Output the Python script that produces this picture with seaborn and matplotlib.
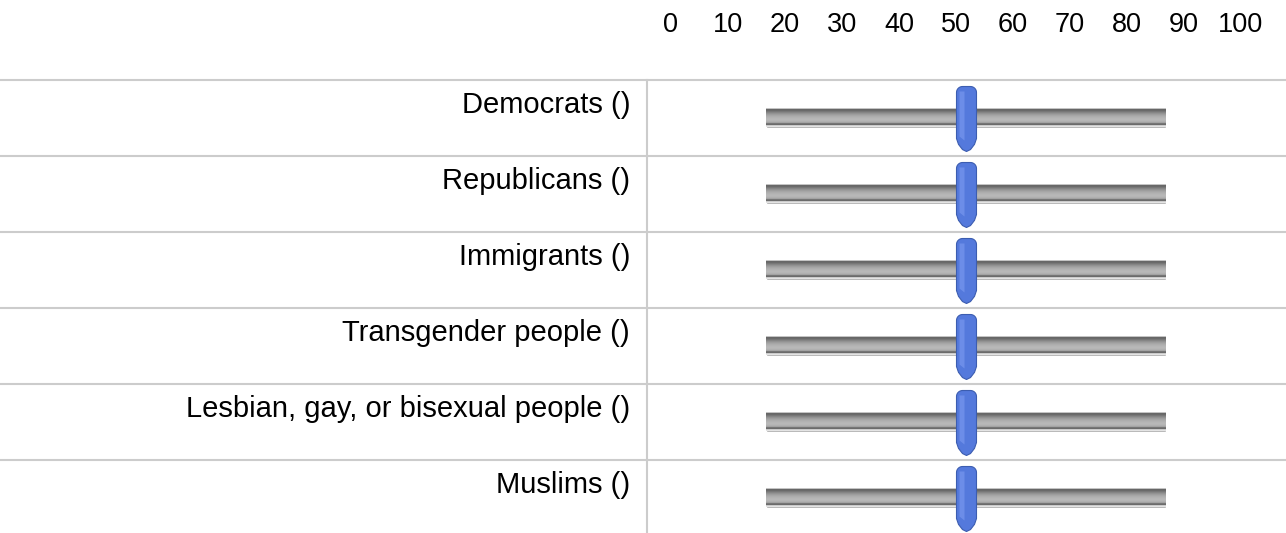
'''
FEELING THERMOMETER SLIDERS
'''
import numpy as np
import pandas as pd
import seaborn as sns
import matplotlib.pyplot as plt
from matplotlib.path import Path
from matplotlib.colors import LinearSegmentedColormap
from matplotlib.transforms import ScaledTranslation

''' DATA '''
groups = [
    'Democrats ()',
    'Republicans ()',
    'Immigrants ()',
    'Transgender people ()',
    'Lesbian, gay, or bisexual people ()',
    'Muslims ()',
]
ratings = [50, 50, 50, 50, 50, 50]
slider_max = [100, 100, 100, 100, 100, 100]
scale_ticks = [0, 10, 20, 30, 40, 50, 60, 70, 80, 90, 100]

df = pd.DataFrame({'group': groups, 'rating': ratings, 'track': slider_max})

''' STYLE '''
W, H = 1286, 533
left_px, top_px, row_px = 647, 80, 76
track_left_px, px_per_unit = 766, 4.0
label_left_px, label_step_px = 671, 5.7
line_col = '#cccccc'

# vertical shading of the slider groove, top to bottom
track_cmap = LinearSegmentedColormap.from_list('track', [
    '#c4c4c4', '#676767', '#6a6a6a', '#777777', '#858585', '#929292', '#9d9d9d',
    '#a6a6a6', '#adadad', '#b2b2b2', '#b6b6b6', '#b8b8b8', '#b6b6b6', '#b0b0b0',
    '#a3a3a3', '#767676', '#6b6b6b', '#cbcbcb', '#e4e4e4'], N=19)


def handle_path(hw, top, bottom, taper, r):
    # rounded top, straight sides, pointed bottom (units: pixels, y up)
    a1 = np.linspace(np.pi, np.pi / 2, 8)
    a2 = np.linspace(np.pi / 2, 0, 8)
    pts = [(-hw + r + r * np.cos(a), top - r + r * np.sin(a)) for a in a1]
    pts += [(hw - r + r * np.cos(a), top - r + r * np.sin(a)) for a in a2]
    pts += [(hw, taper), (hw * 0.8, taper - (taper - bottom) * 0.45),
            (hw * 0.4, taper - (taper - bottom) * 0.85), (0, bottom),
            (-hw * 0.4, taper - (taper - bottom) * 0.85),
            (-hw * 0.8, taper - (taper - bottom) * 0.45), (-hw, taper)]
    pts.append(pts[0])
    verts = np.array(pts)
    codes = [Path.MOVETO] + [Path.LINETO] * (len(verts) - 2) + [Path.CLOSEPOLY]
    return Path(verts, codes)


def marker_size(path):
    # matplotlib rescales a path marker so its largest |coord| is half the size
    ext = np.abs(path.vertices).max()
    return (2 * ext * 0.72) ** 2


''' PLOT '''
sns.set_theme(style='white')
plt.rcParams['font.family'] = ['Liberation Sans', 'DejaVu Sans']

fig = plt.figure(figsize=(W / 100, H / 100), dpi=100)
ax = fig.add_axes([left_px / W, (H - top_px - 6 * row_px) / H,
                   1 - left_px / W, 6 * row_px / H])

x_lo = -(track_left_px - left_px) / px_per_unit
x_hi = x_lo + (W - left_px) / px_per_unit

# groove
sns.barplot(data=df, x='track', y='group', orient='h', width=19 / row_px,
            color='#aaaaaa', ax=ax, zorder=2)
grad = np.linspace(0, 1, 19)[:, None]
for p in list(ax.patches):
    bb = p.get_bbox()
    ax.imshow(grad, extent=[bb.x0, bb.x1, bb.y1, bb.y0], aspect='auto',
              cmap=track_cmap, zorder=3, interpolation='nearest')

# handle
body = handle_path(10, 32, -33, -20, 6)
sns.scatterplot(data=df, x='rating', y='group', marker=body, s=marker_size(body),
                color='#5479dc', edgecolor='#3c5db0', linewidth=0.8,
                zorder=5, ax=ax, legend=False)
shine = Path(np.array([(-7, 27), (-2, 27), (-2, -22), (-7, -18), (-7, 27)]),
             [Path.MOVETO, Path.LINETO, Path.LINETO, Path.LINETO, Path.CLOSEPOLY])
sns.scatterplot(data=df, x='rating', y='group', marker=shine, s=marker_size(shine),
                color='#7393ec', linewidth=0, alpha=0.8, zorder=6, ax=ax, legend=False)

ax.set_xlim(x_lo, x_hi)
ax.set_ylim(len(groups) - 0.5, -0.5)

# row separators running the full width of the figure
for y in np.arange(-0.5, len(groups) - 1):
    ax.axhline(y, xmin=-left_px / (W - left_px), xmax=1, color=line_col,
               lw=1.5, clip_on=False, zorder=1)

for s in ['top', 'right', 'bottom']:
    ax.spines[s].set_visible(False)
ax.spines['left'].set_color(line_col)
ax.spines['left'].set_linewidth(1.5)

ax.set_xlabel('')
ax.set_ylabel('')
ax.set_xticks([])
ax.tick_params(axis='y', length=0, pad=12.2, labelsize=21, labelcolor='black')
lift = ScaledTranslation(0, 5 / 100, fig.dpi_scale_trans)
for lab in ax.get_yticklabels():
    lab.set_verticalalignment('baseline')
    lab.set_transform(lab.get_transform() + lift)

# scale labels along the top
sec = ax.secondary_xaxis(
    'top',
    functions=(lambda t: (track_left_px + px_per_unit * t - label_left_px) / label_step_px,
               lambda v: (label_left_px + label_step_px * v - track_left_px) / px_per_unit))
sec.set_xticks(scale_ticks)
sec.tick_params(length=0, pad=30, labelsize=19.5, labelcolor='black')
sec.spines['top'].set_visible(False)

fig.savefig('out.png', dpi=100)
